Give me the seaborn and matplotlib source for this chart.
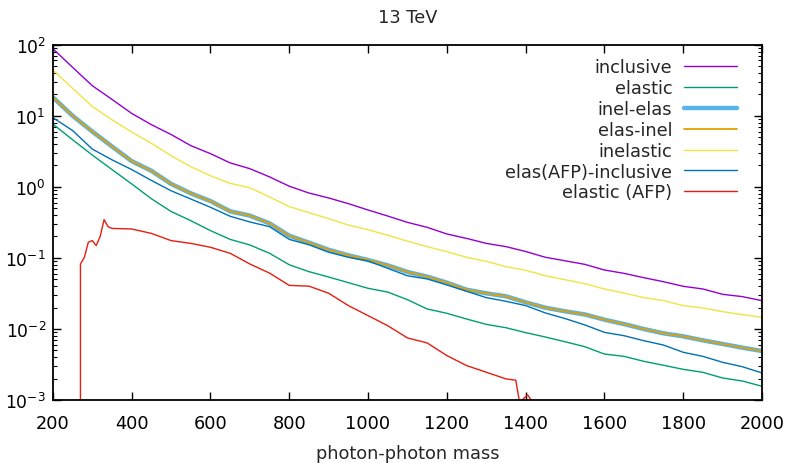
import numpy as np
import pandas as pd
import matplotlib
matplotlib.use("Agg")
import matplotlib.pyplot as plt
import seaborn as sns
from matplotlib.ticker import LogLocator, FixedLocator

# ---------------- data ----------------
mass = [200, 250, 300, 350, 400, 450, 500, 550, 600, 650, 700, 750, 800, 850,
        900, 950, 1000, 1050, 1100, 1150, 1200, 1250, 1300, 1350, 1400, 1450,
        1500, 1550, 1600, 1650, 1700, 1750, 1800, 1850, 1900, 1950, 2000]

inclusive = [88, 48, 26.5, 17, 10.8, 7.5, 5.45, 3.8, 2.93, 2.17, 1.80, 1.38, 1.02,
             0.818, 0.697, 0.580, 0.472, 0.388, 0.316, 0.269, 0.217, 0.188, 0.160,
             0.144, 0.123, 0.102, 0.091, 0.0811, 0.0675, 0.0605, 0.0526, 0.0462,
             0.0398, 0.0365, 0.0307, 0.0285, 0.0250]

elastic = [7.65, 4.6, 2.8, 1.75, 1.1, 0.68, 0.45, 0.334, 0.242, 0.182, 0.152, 0.116,
           0.0800, 0.064, 0.0538, 0.0448, 0.0373, 0.0330, 0.0258, 0.0191, 0.0166,
           0.0138, 0.0116, 0.0104, 0.00887, 0.0077, 0.0066, 0.00563, 0.00443,
           0.00411, 0.00350, 0.00308, 0.00270, 0.00245, 0.00204, 0.00185, 0.00156]

inel_elas = [18.2, 10, 6.0, 3.7, 2.3, 1.68, 1.10, 0.81, 0.63, 0.452, 0.393, 0.306,
             0.205, 0.164, 0.130, 0.1086, 0.0934, 0.0785, 0.0634, 0.0545, 0.0448,
             0.0357, 0.0317, 0.0288, 0.0237, 0.0199, 0.0177, 0.0160, 0.0135, 0.0117,
             0.00997, 0.00867, 0.00787, 0.00691, 0.00614, 0.00545, 0.00489]

elas_inel = list(inel_elas)

inelastic = [44, 24.3, 13.5, 8.8, 5.9, 4.1, 2.74, 1.92, 1.43, 1.12, 0.97, 0.72,
             0.526, 0.433, 0.356, 0.290, 0.249, 0.208, 0.172, 0.144, 0.122, 0.102,
             0.0895, 0.0753, 0.0668, 0.0562, 0.0493, 0.0434, 0.0365, 0.0320, 0.0276,
             0.0250, 0.0213, 0.0197, 0.0175, 0.0159, 0.0146]

elas_afp_incl = [9.4, 6.2, 3.4, 2.4, 1.75, 1.23, 0.88, 0.674, 0.515, 0.385, 0.320,
                 0.275, 0.182, 0.153, 0.120, 0.102, 0.0905, 0.0713, 0.0560, 0.0505,
                 0.0416, 0.0339, 0.0276, 0.0245, 0.0213, 0.0168, 0.0140, 0.0114,
                 0.00895, 0.00803, 0.00683, 0.00593, 0.00469, 0.00411, 0.00339,
                 0.00294, 0.0024]

afp_mass = [270, 270, 280, 290, 300, 310, 320, 330, 340, 350, 400, 450, 500, 550,
            600, 650, 700, 750, 800, 850, 900, 950, 1000, 1050, 1100, 1150, 1200,
            1250, 1300, 1350, 1375, 1385, 1395, 1405, 1420]
elastic_afp = [1e-5, 0.082, 0.102, 0.166, 0.175, 0.149, 0.20, 0.345, 0.275, 0.26,
               0.255, 0.221, 0.175, 0.160, 0.141, 0.116, 0.082, 0.061, 0.041, 0.040,
               0.0318, 0.0213, 0.0154, 0.0111, 0.00747, 0.00635, 0.00422, 0.00305,
               0.00246, 0.00198, 0.0019, 0.0009, 0.00105, 0.00118, 0.0009]

x_ticks = [200, 400, 600, 800, 1000, 1200, 1400, 1600, 1800, 2000]
title = "13 TeV"
x_label = "photon-photon mass"

# ---------------- style ----------------
sns.set_style("ticks")
plt.rcParams["font.family"] = ["DejaVu Sans"]
plt.rcParams["mathtext.fontset"] = "dejavusans"
FS = 12.8

fig = plt.figure(figsize=(7.88, 4.64), dpi=100)
ax = fig.add_axes([0.0671, 0.1358, 0.967 - 0.0671, 0.9015 - 0.1358])

series = [
    ("inclusive", mass, inclusive, "#9400d3", 1.0),
    ("elastic", mass, elastic, "#009e73", 1.0),
    ("inel-elas", mass, inel_elas, "#56b4e9", 3.2),
    ("elas-inel", mass, elas_inel, "#e69f00", 1.3),
    ("inelastic", mass, inelastic, "#f0e442", 1.0),
    ("elas(AFP)-inclusive", mass, elas_afp_incl, "#0072b2", 1.0),
    ("elastic (AFP)", afp_mass, elastic_afp, "#e51e10", 1.0),
]

for name, xs, ys, col, lw in series:
    df = pd.DataFrame({"m": xs, "v": ys})
    sns.lineplot(data=df, x="m", y="v", ax=ax, color=col, linewidth=lw,
                 label=name, estimator=None, sort=False)

ax.set_yscale("log")
ax.set_xlim(200, 2000)
ax.set_ylim(1e-3, 1e2)
ax.xaxis.set_major_locator(FixedLocator(x_ticks))
ax.yaxis.set_major_locator(LogLocator(base=10, numticks=10))
ax.yaxis.set_minor_locator(LogLocator(base=10, subs=np.arange(2, 10), numticks=20))
ax.yaxis.set_minor_formatter(matplotlib.ticker.NullFormatter())

ax.tick_params(which="both", direction="in", top=True, right=True, colors="black")
ax.tick_params(axis="x", which="major", length=6, width=1.0, pad=10, labelsize=FS)
ax.tick_params(axis="y", which="major", length=6, width=1.0, pad=5, labelsize=12.3)
ax.tick_params(which="minor", length=3, width=0.8)
for s in ax.spines.values():
    s.set_linewidth(1.3)
    s.set_color("black")

ax.set_xlabel(x_label, fontsize=FS, labelpad=9)
ax.set_ylabel("")
ax.set_title(title, fontsize=FS, pad=16)

leg = ax.legend(loc="upper right", frameon=False, fontsize=FS, markerfirst=False,
                handlelength=3.0, handletextpad=0.65, labelspacing=0.16,
                borderaxespad=0.0, bbox_to_anchor=(0.975, 0.9815))

fig.savefig("out.png", dpi=100)
